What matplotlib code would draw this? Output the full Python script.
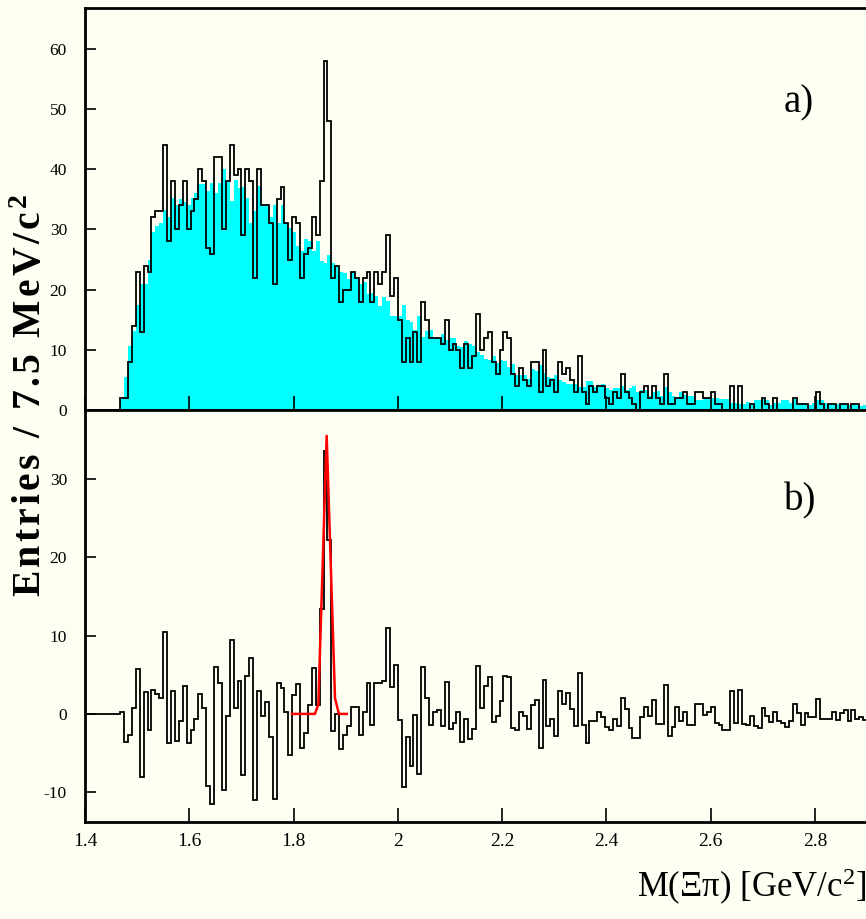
import numpy as np
import matplotlib
matplotlib.use("Agg")
import matplotlib.pyplot as plt
from matplotlib.ticker import FormatStrFormatter

# 7.5 MeV bins from 1.4 to 2.9 GeV/c^2
bin_lo = 1.4
bin_width = 0.0075
n_bins = 200

# a) data (black histogram)
data_counts = [
    0, 0, 0, 0, 0, 0, 0, 0, 0, 2,
    2, 8, 14, 23, 13, 24, 23, 32, 33, 33,
    44, 28, 38, 30, 34, 38, 30, 33, 35, 40,
    38, 27, 26, 42, 42, 30, 38, 44, 39, 40,
    29, 40, 38, 22, 40, 34, 34, 31, 21, 35,
    37, 31, 25, 32, 31, 22, 26, 27, 32, 29,
    38, 58, 48, 22, 24, 18, 20, 20, 23, 22,
    18, 22, 23, 18, 23, 21, 23, 29, 19, 22,
    15, 8, 12, 8, 13, 8, 18, 15, 12, 12,
    12, 11, 15, 10, 11, 10, 7, 11, 7, 9,
    16, 10, 12, 13, 8, 6, 10, 13, 12, 6,
    4, 7, 5, 4, 8, 8, 3, 10, 4, 5,
    3, 8, 6, 7, 5, 3, 9, 3, 1, 4,
    3, 4, 4, 2, 1, 3, 2, 6, 3, 2,
    1, 0, 3, 4, 2, 4, 2, 1, 6, 1,
    1, 2, 2, 3, 1, 1, 3, 3, 2, 2,
    3, 1, 1, 0, 0, 4, 0, 4, 0, 0,
    1, 0, 0, 2, 1, 0, 2, 0, 0, 0,
    0, 2, 1, 1, 1, 0, 0, 3, 1, 0,
    1, 1, 0, 1, 1, 0, 1, 1, 0, 0,
]

# a) background (cyan filled histogram)
bkg_counts = [
    0, 0, 0, 0, 0, 0, 0, 0, 0, 2,
    5.5, 10.7, 13.2, 17.4, 21, 21, 25, 29.6, 30.5, 31,
    33.3, 32, 35.2, 34, 35, 34.5, 34, 35.3, 36, 37.5,
    37.5, 36.4, 37.8, 36, 37.8, 40, 38.3, 34.7, 38.3, 36.9,
    37, 35.3, 31, 33, 37.2, 34.3, 34, 32, 34, 31,
    34, 31, 30.3, 29.6, 27.2, 26.5, 28.4, 28, 26.4, 28,
    24.8, 24.4, 25.7, 24.5, 23.8, 23, 22.7, 21.7, 22.7, 21.9,
    20.9, 21.3, 19.2, 19.4, 19, 17.2, 18.8, 18.1, 15.7, 15.7,
    15.7, 17.4, 15, 14.6, 13.3, 15.7, 12.1, 13.2, 13.3, 11.9,
    11.8, 12.6, 11.7, 11.9, 12, 10.7, 10.5, 11.4, 11, 10.7,
    9.6, 9.2, 8.5, 8.3, 9, 7.8, 8.3, 8.1, 7.2, 7.6,
    5.8, 5.8, 5.8, 5.2, 6.8, 6.4, 7.4, 6.2, 5.5, 5.4,
    5.8, 5, 4.6, 4.4, 4.4, 4.4, 3.8, 3.8, 4.8, 4.8,
    3.8, 3.8, 4.3, 3.7, 3.4, 3.6, 3.6, 4, 3.4, 3.6,
    4, 3, 3.3, 3.3, 2.4, 3, 3.2, 2.3, 3.8, 3,
    2.3, 1.8, 3, 2.5, 2.3, 2.3, 1.7, 1.6, 2, 1.8,
    2, 2, 1.9, 1.9, 1.9, 1.1, 1.1, 1, 1, 1.3,
    1.1, 1.6, 1.7, 1.8, 1.6, 0.8, 1.1, 1.1, 1.6, 1.6,
    1.1, 1.9, 1.1, 1.1, 1.2, 0.8, 1.1, 1.6, 1.6, 1.1,
    1, 0.8, 1, 1, 0.8, 0.8, 1, 0.8, 0.6, 0.8,
]

# b) subtracted spectrum
sub_counts = [
    0, 0, 0, 0, 0, 0, 0, 0, 0, 0.2,
    -3.6, -2.7, 0.8, 5.7, -8.1, 2.8, -2, 3.1, 2.6, 2,
    10.5, -3.7, 2.9, -3.5, -0.9, 3.6, -3.7, -2.1, -0.6, 2.6,
    0.8, -9.2, -11.5, 6, 4, -9.7, -0.3, 9.4, 0.7, 4.2,
    -7.8, 4.9, 7.2, -11, 2.9, -0.3, 1.5, -3, -10.9, 4,
    3.3, 0.2, -5.2, 2.4, 3.8, -4.4, -2.4, 1.1, 5.8, 1.1,
    13.4, 33.6, 22.2, -2.2, 0, -4.5, -2.7, -1.5, 0.85, 0.85,
    -2.7, 0.3, 3.9, -1.4, 3.9, 3.9, 4.2, 11, 3.4, 6.2,
    -0.8, -9.3, -3, -6.7, -0.1, -7.7, 6, 2, -1.4, 0.3,
    0.5, -1.6, 4.1, -1.9, -1.1, 0.3, -3.6, -0.6, -3.2, -1.9,
    6.1, 0.7, 3.5, 4.7, -1, -0.3, 1.6, 4.8, 4.7, -1.8,
    -2.1, 0.3, -0.3, -1.9, 1.2, 1.8, -4.4, 4.3, -1.6, -0.6,
    -2.8, 2.9, 1.3, 2.7, 0.6, -1.5, 5.2, -1.4, -3.7, -0.9,
    -0.9, 0.3, -0.4, -1.7, -2.1, -0.6, -1.6, 2, 0.6, -1.8,
    -3.1, -3.1, -0.4, 0.9, -0.3, 1.8, -1.3, -1.3, 3.7, -2.8,
    -1.7, 0.9, -0.9, 0.3, -1.4, -1.4, 1.3, 1.3, -0.2, 0.2,
    0.9, -1.1, -1.4, -2, -2, 2.9, -1.1, 3, -1.3, -1.4,
    -0.3, -1.6, -1.8, 0.7, -0.3, -1, 0.3, -0.9, -1.2, -1.7,
    -0.9, 1.3, 0.1, -1.4, 0.1, -0.4, -0.4, 1.9, -0.6, -0.6,
    -0.6, 0.3, -0.8, 0.1, 0.5, -0.9, 0.5, -0.6, -0.4, -0.8,
]

# fitted peak (red)
fit_x = [1.797, 1.841, 1.8475, 1.8635, 1.8795, 1.887, 1.902]
fit_y = [0, 0, 1.2, 35.5, 2.0, 0, 0]

xticks = [1.4, 1.6, 1.8, 2.0, 2.2, 2.4, 2.6, 2.8]
yticks_a = [0, 10, 20, 30, 40, 50, 60]
yticks_b = [-10, 0, 10, 20, 30]

edges = bin_lo + bin_width * np.arange(n_bins + 1)

bg = '#fffef2'
plt.rcParams['font.family'] = ['Liberation Serif', 'DejaVu Serif']
plt.rcParams['mathtext.fontset'] = 'custom'
plt.rcParams['mathtext.rm'] = 'Liberation Serif'
plt.rcParams['mathtext.it'] = 'Liberation Serif:italic'
plt.rcParams['mathtext.bf'] = 'Liberation Serif:bold'
plt.rcParams['axes.unicode_minus'] = False

W, H = 866, 919
fig = plt.figure(figsize=(W / 100, H / 100), dpi=100, facecolor=bg)
ax1 = fig.add_axes([85 / W, 1 - 410 / H, 785 / W, 402 / H], facecolor=bg)
ax2 = fig.add_axes([85 / W, 1 - 822 / H, 785 / W, 412 / H], facecolor=bg, sharex=ax1)

ax1.stairs(bkg_counts, edges, fill=True, color='#00ffff', lw=0)
ax1.stairs(data_counts, edges, color='black', lw=1.3)

ax2.stairs(sub_counts, edges, baseline=None, color='black', lw=1.3)
ax2.plot(fit_x, fit_y, color='red', lw=1.8)

ax1.set_xlim(1.4, 1.4 + 785 / 521.4)
ax1.set_ylim(0, 66.8)
ax2.set_ylim(-13.8, 38.8)

for ax in (ax1, ax2):
    for s in ax.spines.values():
        s.set_linewidth(2)
    ax.spines['right'].set_visible(False)
    ax.tick_params(direction='in', length=8, width=1.2, labelsize=12.5, pad=13)
    ax.tick_params(axis='x', length=10, pad=8, labelsize=14)

ax1.set_yticks(yticks_a)
ax2.set_yticks(yticks_b)
ax2.set_xticks(xticks)
ax2.xaxis.set_major_formatter(FormatStrFormatter('%g'))
ax1.tick_params(axis='x', labelbottom=False)

ax1.text(0.89, 0.741, 'a)', transform=ax1.transAxes, fontsize=28,
         ha='left', va='baseline')
ax2.text(0.89, 0.757, 'b)', transform=ax2.transAxes, fontsize=28,
         ha='left', va='baseline')

hs = '\u200a'
ylab = hs.join('Entries / 7.5 MeV/c') + hs + r'$^{\mathbf{2}}$'
fig.text(32 / W, 1 - 395 / H, ylab, rotation=90,
         fontsize=28.5, fontweight='bold', ha='center', va='center')
fig.text(866 / W, 1 - 887 / H, 'M(\u039e\u03c0) [GeV/c$^2$]', fontsize=25,
         ha='right', va='center')

fig.savefig('out.png', dpi=100, facecolor=bg)
